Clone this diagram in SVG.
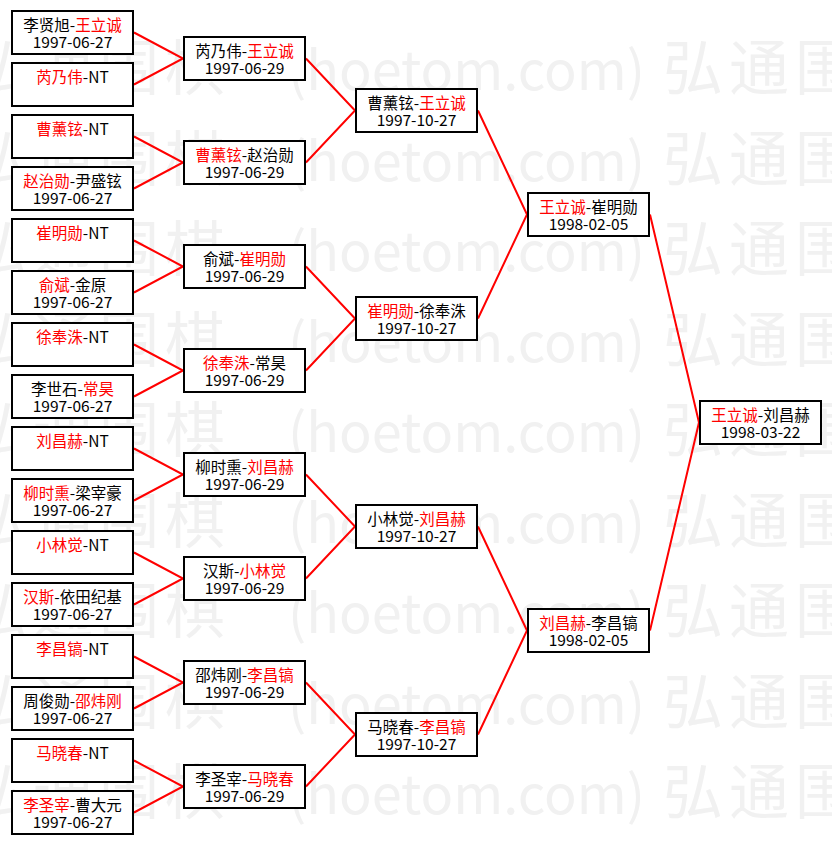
<svg xmlns="http://www.w3.org/2000/svg" width="832" height="845" viewBox="0 0 832 845">
<style>
.bg{fill:#ffffff}
.wm{font-family:"Noto Sans CJK SC","Noto Sans CJK TC",sans-serif;font-size:60px;letter-spacing:6px;fill:#f1f1f1}
.wl{font-size:54px;letter-spacing:0px}
.box{fill:#ffffff;stroke:#000000;stroke-width:2}
.t{font-family:"Noto Sans CJK SC","Noto Sans CJK TC",sans-serif;font-size:15.5px;fill:#000000;text-anchor:middle}
.r{fill:#ff0000}
.link{fill:none;stroke:#ff0000;stroke-width:2}
</style>
<rect class="bg" x="0" y="0" width="832" height="845"/>
<g id="watermark">
<text class="wm" y="90"><tspan x="-33">弘通围棋</tspan><tspan class="wl" x="288">(hoetom.com)</tspan><tspan x="663">弘通围</tspan></text>
<text class="wm" y="180.5"><tspan x="-33">弘通围棋</tspan><tspan class="wl" x="288">(hoetom.com)</tspan><tspan x="663">弘通围</tspan></text>
<text class="wm" y="271"><tspan x="-33">弘通围棋</tspan><tspan class="wl" x="288">(hoetom.com)</tspan><tspan x="663">弘通围</tspan></text>
<text class="wm" y="361.5"><tspan x="-33">弘通围棋</tspan><tspan class="wl" x="288">(hoetom.com)</tspan><tspan x="663">弘通围</tspan></text>
<text class="wm" y="452"><tspan x="-33">弘通围棋</tspan><tspan class="wl" x="288">(hoetom.com)</tspan><tspan x="663">弘通围</tspan></text>
<text class="wm" y="542.5"><tspan x="-33">弘通围棋</tspan><tspan class="wl" x="288">(hoetom.com)</tspan><tspan x="663">弘通围</tspan></text>
<text class="wm" y="633"><tspan x="-33">弘通围棋</tspan><tspan class="wl" x="288">(hoetom.com)</tspan><tspan x="663">弘通围</tspan></text>
<text class="wm" y="723.5"><tspan x="-33">弘通围棋</tspan><tspan class="wl" x="288">(hoetom.com)</tspan><tspan x="663">弘通围</tspan></text>
<text class="wm" y="814"><tspan x="-33">弘通围棋</tspan><tspan class="wl" x="288">(hoetom.com)</tspan><tspan x="663">弘通围</tspan></text>
</g>
<g id="connectors">
<polyline class="link" points="134,32.5 183,58.5 134,84.5"/>
<polyline class="link" points="134,136.5 183,162.5 134,188.5"/>
<polyline class="link" points="134,240.5 183,266.5 134,292.5"/>
<polyline class="link" points="134,344.5 183,370.5 134,396.5"/>
<polyline class="link" points="134,448.5 183,474.5 134,500.5"/>
<polyline class="link" points="134,552.5 183,578.5 134,604.5"/>
<polyline class="link" points="134,656.5 183,682.5 134,708.5"/>
<polyline class="link" points="134,760.5 183,786.5 134,812.5"/>
<polyline class="link" points="306,58.5 355,110.5 306,162.5"/>
<polyline class="link" points="306,266.5 355,318.5 306,370.5"/>
<polyline class="link" points="306,474.5 355,526.5 306,578.5"/>
<polyline class="link" points="306,682.5 355,734.5 306,786.5"/>
<polyline class="link" points="478,110.5 527,214.5 478,318.5"/>
<polyline class="link" points="478,526.5 527,630.5 478,734.5"/>
<polyline class="link" points="650,214.5 699,422.5 650,630.5"/>
</g>
<g id="r1-1"><rect class="box" x="12" y="11" width="121" height="43"/><text class="t" x="72.5" y="31">李贤旭-<tspan class="r">王立诚</tspan></text><text class="t" x="72.5" y="48">1997-06-27</text></g>
<g id="r1-2"><rect class="box" x="12" y="63" width="121" height="43"/><text class="t" x="72.5" y="83"><tspan class="r">芮乃伟</tspan>-NT</text></g>
<g id="r1-3"><rect class="box" x="12" y="115" width="121" height="43"/><text class="t" x="72.5" y="135"><tspan class="r">曹薰铉</tspan>-NT</text></g>
<g id="r1-4"><rect class="box" x="12" y="167" width="121" height="43"/><text class="t" x="72.5" y="187"><tspan class="r">赵治勋</tspan>-尹盛铉</text><text class="t" x="72.5" y="204">1997-06-27</text></g>
<g id="r1-5"><rect class="box" x="12" y="219" width="121" height="43"/><text class="t" x="72.5" y="239"><tspan class="r">崔明勋</tspan>-NT</text></g>
<g id="r1-6"><rect class="box" x="12" y="271" width="121" height="43"/><text class="t" x="72.5" y="291"><tspan class="r">俞斌</tspan>-金原</text><text class="t" x="72.5" y="308">1997-06-27</text></g>
<g id="r1-7"><rect class="box" x="12" y="323" width="121" height="43"/><text class="t" x="72.5" y="343"><tspan class="r">徐奉洙</tspan>-NT</text></g>
<g id="r1-8"><rect class="box" x="12" y="375" width="121" height="43"/><text class="t" x="72.5" y="395">李世石-<tspan class="r">常昊</tspan></text><text class="t" x="72.5" y="412">1997-06-27</text></g>
<g id="r1-9"><rect class="box" x="12" y="427" width="121" height="43"/><text class="t" x="72.5" y="447"><tspan class="r">刘昌赫</tspan>-NT</text></g>
<g id="r1-10"><rect class="box" x="12" y="479" width="121" height="43"/><text class="t" x="72.5" y="499"><tspan class="r">柳时熏</tspan>-梁宰豪</text><text class="t" x="72.5" y="516">1997-06-27</text></g>
<g id="r1-11"><rect class="box" x="12" y="531" width="121" height="43"/><text class="t" x="72.5" y="551"><tspan class="r">小林觉</tspan>-NT</text></g>
<g id="r1-12"><rect class="box" x="12" y="583" width="121" height="43"/><text class="t" x="72.5" y="603"><tspan class="r">汉斯</tspan>-依田纪基</text><text class="t" x="72.5" y="620">1997-06-27</text></g>
<g id="r1-13"><rect class="box" x="12" y="635" width="121" height="43"/><text class="t" x="72.5" y="655"><tspan class="r">李昌镐</tspan>-NT</text></g>
<g id="r1-14"><rect class="box" x="12" y="687" width="121" height="43"/><text class="t" x="72.5" y="707">周俊勋-<tspan class="r">邵炜刚</tspan></text><text class="t" x="72.5" y="724">1997-06-27</text></g>
<g id="r1-15"><rect class="box" x="12" y="739" width="121" height="43"/><text class="t" x="72.5" y="759"><tspan class="r">马晓春</tspan>-NT</text></g>
<g id="r1-16"><rect class="box" x="12" y="791" width="121" height="43"/><text class="t" x="72.5" y="811"><tspan class="r">李圣宰</tspan>-曹大元</text><text class="t" x="72.5" y="828">1997-06-27</text></g>
<g id="r2-1"><rect class="box" x="184" y="37" width="121" height="43"/><text class="t" x="244.5" y="57">芮乃伟-<tspan class="r">王立诚</tspan></text><text class="t" x="244.5" y="74">1997-06-29</text></g>
<g id="r2-2"><rect class="box" x="184" y="141" width="121" height="43"/><text class="t" x="244.5" y="161"><tspan class="r">曹薰铉</tspan>-赵治勋</text><text class="t" x="244.5" y="178">1997-06-29</text></g>
<g id="r2-3"><rect class="box" x="184" y="245" width="121" height="43"/><text class="t" x="244.5" y="265">俞斌-<tspan class="r">崔明勋</tspan></text><text class="t" x="244.5" y="282">1997-06-29</text></g>
<g id="r2-4"><rect class="box" x="184" y="349" width="121" height="43"/><text class="t" x="244.5" y="369"><tspan class="r">徐奉洙</tspan>-常昊</text><text class="t" x="244.5" y="386">1997-06-29</text></g>
<g id="r2-5"><rect class="box" x="184" y="453" width="121" height="43"/><text class="t" x="244.5" y="473">柳时熏-<tspan class="r">刘昌赫</tspan></text><text class="t" x="244.5" y="490">1997-06-29</text></g>
<g id="r2-6"><rect class="box" x="184" y="557" width="121" height="43"/><text class="t" x="244.5" y="577">汉斯-<tspan class="r">小林觉</tspan></text><text class="t" x="244.5" y="594">1997-06-29</text></g>
<g id="r2-7"><rect class="box" x="184" y="661" width="121" height="43"/><text class="t" x="244.5" y="681">邵炜刚-<tspan class="r">李昌镐</tspan></text><text class="t" x="244.5" y="698">1997-06-29</text></g>
<g id="r2-8"><rect class="box" x="184" y="765" width="121" height="43"/><text class="t" x="244.5" y="785">李圣宰-<tspan class="r">马晓春</tspan></text><text class="t" x="244.5" y="802">1997-06-29</text></g>
<g id="r3-1"><rect class="box" x="356" y="89" width="121" height="43"/><text class="t" x="416.5" y="109">曹薰铉-<tspan class="r">王立诚</tspan></text><text class="t" x="416.5" y="126">1997-10-27</text></g>
<g id="r3-2"><rect class="box" x="356" y="297" width="121" height="43"/><text class="t" x="416.5" y="317"><tspan class="r">崔明勋</tspan>-徐奉洙</text><text class="t" x="416.5" y="334">1997-10-27</text></g>
<g id="r3-3"><rect class="box" x="356" y="505" width="121" height="43"/><text class="t" x="416.5" y="525">小林觉-<tspan class="r">刘昌赫</tspan></text><text class="t" x="416.5" y="542">1997-10-27</text></g>
<g id="r3-4"><rect class="box" x="356" y="713" width="121" height="43"/><text class="t" x="416.5" y="733">马晓春-<tspan class="r">李昌镐</tspan></text><text class="t" x="416.5" y="750">1997-10-27</text></g>
<g id="r4-1"><rect class="box" x="528" y="193" width="121" height="43"/><text class="t" x="588.5" y="213"><tspan class="r">王立诚</tspan>-崔明勋</text><text class="t" x="588.5" y="230">1998-02-05</text></g>
<g id="r4-2"><rect class="box" x="528" y="609" width="121" height="43"/><text class="t" x="588.5" y="629"><tspan class="r">刘昌赫</tspan>-李昌镐</text><text class="t" x="588.5" y="646">1998-02-05</text></g>
<g id="final"><rect class="box" x="700" y="401" width="121" height="43"/><text class="t" x="760.5" y="421"><tspan class="r">王立诚</tspan>-刘昌赫</text><text class="t" x="760.5" y="438">1998-03-22</text></g>
</svg>
